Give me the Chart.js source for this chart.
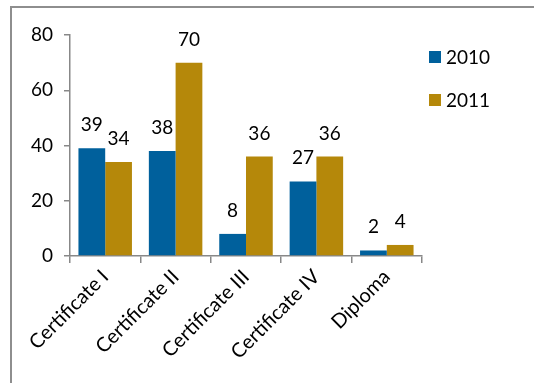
<!DOCTYPE html>
<html>
<head>
<meta charset="utf-8">
<script src="https://cdn.jsdelivr.net/npm/chart.js@4/dist/chart.umd.min.js"></script>
<style>
  html, body { margin: 0; padding: 0; background: #fff; overflow: hidden; }
  #frame {
    position: absolute; left: 10px; top: 6px;
    width: 700px; height: 600px;
    border: 2px solid #8e8e8e; box-sizing: border-box;
  }
  #wrap { position: absolute; left: 0; top: 0; width: 534px; height: 383px; }
</style>
</head>
<body>
<div id="frame"></div>
<div id="wrap"><canvas id="chart"></canvas></div>
<script>
const categories = ['Certificate I', 'Certificate II', 'Certificate III', 'Certificate IV', 'Diploma'];
const values2010 = [39, 38, 8, 27, 2];
const values2011 = [34, 70, 36, 36, 4];
const seriesNames = ['2010', '2011'];
const yTicks = [0, 20, 40, 60, 80];

const FONT = 'Lato, "Open Sans", sans-serif';
const AXIS = '#888888';

// numbers sitting above each bar
const valueLabels = {
  id: 'valueLabels',
  afterDatasetsDraw(chart) {
    const ctx = chart.ctx;
    ctx.save();
    ctx.font = '19px ' + FONT;
    ctx.fillStyle = '#000';
    ctx.textAlign = 'center';
    ctx.textBaseline = 'alphabetic';
    chart.data.datasets.forEach((ds, i) => {
      chart.getDatasetMeta(i).data.forEach((bar, j) => {
        ctx.fillText(String(ds.data[j]), bar.x, bar.y - 17);
      });
    });
    ctx.restore();
  }
};

// legend drawn to the right of the plot
const sideLegend = {
  id: 'sideLegend',
  afterDraw(chart) {
    const ctx = chart.ctx;
    const x = chart.chartArea.right + 7;
    ctx.save();
    ctx.font = '19px ' + FONT;
    ctx.textBaseline = 'middle';
    ctx.textAlign = 'left';
    chart.data.datasets.forEach((ds, i) => {
      const cy = 57 + i * 43;
      ctx.fillStyle = ds.backgroundColor;
      ctx.fillRect(x, cy - 6, 12, 12);
      ctx.fillStyle = '#000';
      ctx.fillText(ds.label, x + 17, cy + 1);
    });
    ctx.restore();
  }
};

new Chart(document.getElementById('chart'), {
  type: 'bar',
  data: {
    labels: categories,
    datasets: [
      { label: seriesNames[0], data: values2010, backgroundColor: '#00609c' },
      { label: seriesNames[1], data: values2011, backgroundColor: '#b5880a' }
    ]
  },
  options: {
    responsive: true,
    maintainAspectRatio: false,
    animation: false,
    layout: { padding: { left: 0, top: 35, right: 112, bottom: 0 } },
    datasets: { bar: { categoryPercentage: 0.76, barPercentage: 1 } },
    plugins: { legend: { display: false }, tooltip: { enabled: false } },
    scales: {
      x: {
        afterFit(scale) { scale.height = 127; },
        grid: { display: true, drawOnChartArea: false, drawTicks: true, tickLength: 7, color: AXIS, lineWidth: 1.5, offset: true },
        border: { color: AXIS, width: 1.5 },
        ticks: { color: '#000', font: { family: FONT, size: 20 }, minRotation: 45, maxRotation: 45, padding: 2 }
      },
      y: {
        min: 0,
        max: 80,
        afterFit(scale) { scale.width = 70; },
        afterBuildTicks(scale) { scale.ticks = yTicks.map(v => ({ value: v })); },
        grid: { display: true, drawOnChartArea: false, drawTicks: true, tickLength: 6, color: AXIS, lineWidth: 1.5 },
        border: { color: AXIS, width: 1.5 },
        ticks: { color: '#000', font: { family: FONT, size: 19 }, padding: 11 }
      }
    }
  },
  plugins: [valueLabels, sideLegend]
});
</script>
</body>
</html>
